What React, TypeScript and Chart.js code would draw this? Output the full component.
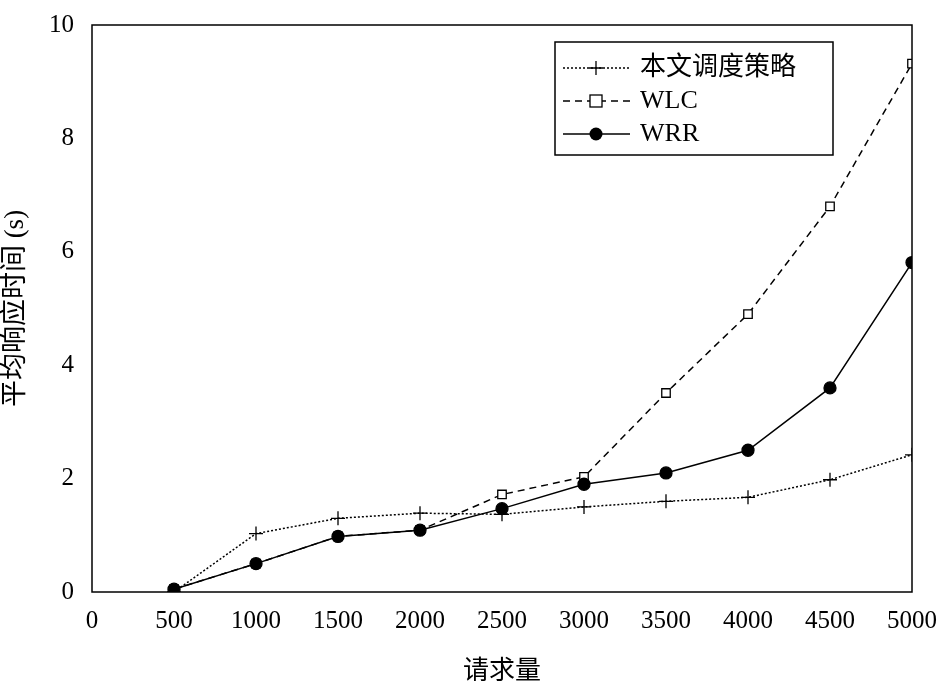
import React, { useEffect, useRef } from "react";
import { Chart, registerables } from "chart.js";
Chart.register(...registerables);

const xs = [500, 1000, 1500, 2000, 2500, 3000, 3500, 4000, 4500, 5000];
const ours = [0.0, 1.03, 1.3, 1.39, 1.37, 1.5, 1.6, 1.67, 1.98, 2.42];
const wlc = [0.05, 0.5, 0.98, 1.09, 1.72, 2.03, 3.51, 4.9, 6.8, 9.32];
const wrr = [0.05, 0.5, 0.98, 1.09, 1.47, 1.9, 2.1, 2.5, 3.6, 5.81];
const names = ["本文调度策略", "WLC", "WRR"];
const FONT = "'Liberation Serif', 'Noto Sans CJK SC', serif";

export default function App() {
  const ref = useRef<HTMLCanvasElement>(null);
  useEffect(() => {
    const mk = (v: number[]) => xs.map((x, i) => ({ x, y: v[i] }));
    const styles = [
      { dash: [2, 2], ps: "cross", bg: "#000", r: 7, order: 1 },
      { dash: [7, 5], ps: "rect", bg: "#fff", r: 6, order: 2 },
      { dash: [], ps: "circle", bg: "#000", r: 6, order: 0 },
    ];
    const boxPlugin = {
      id: "box",
      afterDraw(c: any) {
        const { ctx, chartArea: a } = c;
        ctx.save();
        ctx.strokeStyle = "#000";
        ctx.lineWidth = 1.5;
        ctx.strokeRect(a.left, a.top, a.right - a.left, a.bottom - a.top);
        const lx = 555, ly = 42, lw = 278, lh = 113;
        ctx.fillStyle = "#fff";
        ctx.fillRect(lx, ly, lw, lh);
        ctx.strokeRect(lx, ly, lw, lh);
        ctx.font = "26px " + FONT;
        ctx.textBaseline = "middle";
        names.forEach((n, i) => {
          const y = ly + 26 + i * 33;
          const s = styles[i];
          ctx.setLineDash(s.dash);
          ctx.lineWidth = 1.3;
          ctx.beginPath();
          ctx.moveTo(lx + 8, y);
          ctx.lineTo(lx + 75, y);
          ctx.stroke();
          ctx.setLineDash([]);
          const cx = lx + 41;
          if (i === 0) {
            ctx.beginPath();
            ctx.moveTo(cx - 7, y); ctx.lineTo(cx + 7, y);
            ctx.moveTo(cx, y - 7); ctx.lineTo(cx, y + 7);
            ctx.stroke();
          } else if (i === 1) {
            ctx.fillStyle = "#fff";
            ctx.fillRect(cx - 6, y - 6, 12, 12);
            ctx.strokeRect(cx - 6, y - 6, 12, 12);
          } else {
            ctx.fillStyle = "#000";
            ctx.beginPath();
            ctx.arc(cx, y, 6.5, 0, Math.PI * 2);
            ctx.fill();
          }
          ctx.fillStyle = "#000";
          ctx.fillText(n, lx + 85, y);
        });
        ctx.restore();
      },
    };
    const chart = new Chart(ref.current!, {
      type: "line",
      data: {
        datasets: [ours, wlc, wrr].map((v, i) => ({
          label: names[i],
          data: mk(v),
          order: styles[i].order,
          borderColor: "#000",
          borderWidth: 1.5,
          borderDash: styles[i].dash,
          pointStyle: styles[i].ps as any,
          pointRadius: styles[i].r,
          pointBackgroundColor: styles[i].bg,
          pointBorderColor: "#000",
          pointBorderWidth: 1.3,
          tension: 0,
        })),
      },
      options: {
        animation: false,
        responsive: false,
        layout: { padding: { top: 6, right: 33, left: 0, bottom: 0 } },
        plugins: { legend: { display: false }, tooltip: { enabled: false } },
        scales: {
          x: {
            type: "linear",
            min: 0,
            max: 5000,
            grid: { display: false },
            border: { display: false },
            ticks: { stepSize: 500, color: "#000", font: { size: 25, family: FONT }, maxRotation: 0, padding: 6, callback: (v: any) => String(v) },
            title: { display: true, text: "请求量", color: "#000", font: { size: 26, family: FONT }, padding: 0 },
            afterFit: (s: any) => { s.height = 96; },
          },
          y: {
            min: 0,
            max: 10,
            grid: { display: false },
            border: { display: false },
            ticks: { stepSize: 2, color: "#000", font: { size: 25, family: FONT }, padding: 10, callback: (v: any) => String(v) },
            title: { display: true, text: "平均响应时间 (s)", color: "#000", font: { size: 27, family: FONT }, padding: 0 },
            afterFit: (s: any) => { s.width = 92; },
          },
        },
      },
      plugins: [boxPlugin],
    });
    return () => chart.destroy();
  }, []);
  return (
    <canvas ref={ref} width={945} height={688}
      style={{ position: "fixed", left: 0, top: 0, background: "#fff" }} />
  );
}
